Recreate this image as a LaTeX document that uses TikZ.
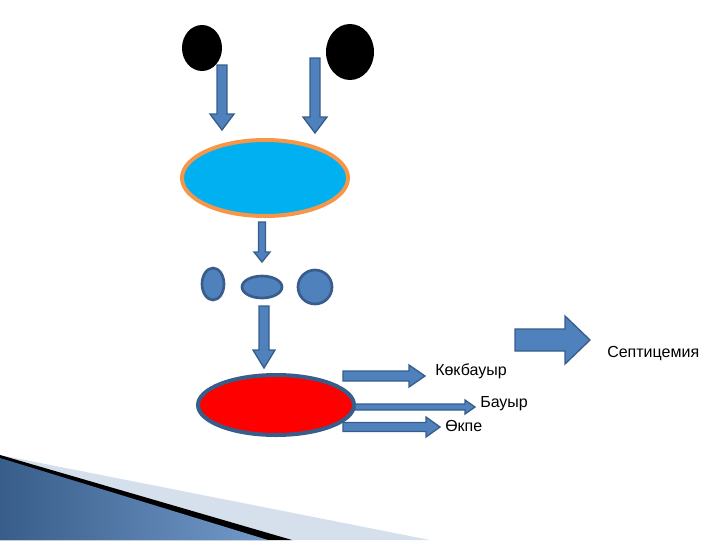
\documentclass[tikz,border=0pt]{standalone}
\usepackage{fontspec}
\setmainfont{Liberation Sans}
\definecolor{cellblue}{HTML}{00B0F0}
\definecolor{rimorange}{HTML}{F79646}
\definecolor{arrowblue}{HTML}{4F81BD}
\definecolor{rimblue}{HTML}{385D8A}
\definecolor{paleblue}{HTML}{D6DFEC}
% vertical block arrow: x, top, bottom, half shaft, half head, head length
\newcommand{\downblock}[6]{%
  \draw[blockarr] (#1-#4,#2) -- (#1+#4,#2) -- (#1+#4,#3-#6) -- (#1+#5,#3-#6)
    -- (#1,#3) -- (#1-#5,#3-#6) -- (#1-#4,#3-#6) -- cycle;}
% horizontal block arrow: y, left, right, half shaft, half head, head length
\newcommand{\rightblock}[6]{%
  \draw[blockarr] (#2,#1-#4) -- (#3-#6,#1-#4) -- (#3-#6,#1-#5) -- (#3,#1)
    -- (#3-#6,#1+#5) -- (#3-#6,#1+#4) -- (#2,#1+#4) -- cycle;}
\begin{document}
\begin{tikzpicture}[x=0.75pt,y=-0.75pt,
    blockarr/.style={fill=arrowblue,draw=rimblue,line width=1pt},
    small/.style={fill=arrowblue,draw=rimblue,line width=2pt},
    lbl/.style={font=\fontsize{12}{14}\selectfont,anchor=west,inner sep=0pt}]
    \useasboundingbox (0,0) rectangle (720,540);

    % corner decoration
    \fill[paleblue] (0,455) -- (430,540) -- (0,540) -- cycle;
    \fill[black] (0,455) -- (292,540) -- (0,540) -- cycle;
    \shade[left color=rimblue,right color=arrowblue!80] (0,458) -- (268,540) -- (0,540) -- cycle;

    % two black cells
    \fill[black] (202,48) ellipse (20 and 23);
    \fill[black] (350,52) ellipse (24 and 28);
    \downblock{222}{65}{130}{5}{12}{16}
    \downblock{315}{58}{133}{5}{12}{16}

    % blue cell
    \draw[fill=cellblue,draw=rimorange,line width=3pt] (265,178) ellipse (83 and 38);
    \downblock{262}{222}{262}{3.5}{8}{10}

    % three fragments
    \draw[small] (213,284) ellipse (11 and 16);
    \draw[small] (262,287) ellipse (20 and 11);
    \draw[small] (315,287) ellipse (17 and 17);
    \downblock{264}{306}{368}{5}{11}{18}

    % red cell
    \draw[fill=red,draw=rimblue,line width=3pt] (276,405) ellipse (78 and 30);
    \rightblock{376}{343}{425}{5}{11}{16}
    \rightblock{407}{355}{475}{3}{7}{10}
    \rightblock{427}{343}{440}{4.5}{10}{14}
    \node[lbl] (kokbauyr) at (435,371) {Көкбауыр};
    \node[lbl] (bauyr) at (480,404) {Бауыр};
    \node[lbl] (okpe) at (445,426) {Өкпе};

    % septicemia
    \rightblock{340}{515}{590}{11}{24}{25}
    \node[lbl] (septic) at (607,353) {Септицемия};
\end{tikzpicture}
\end{document}
